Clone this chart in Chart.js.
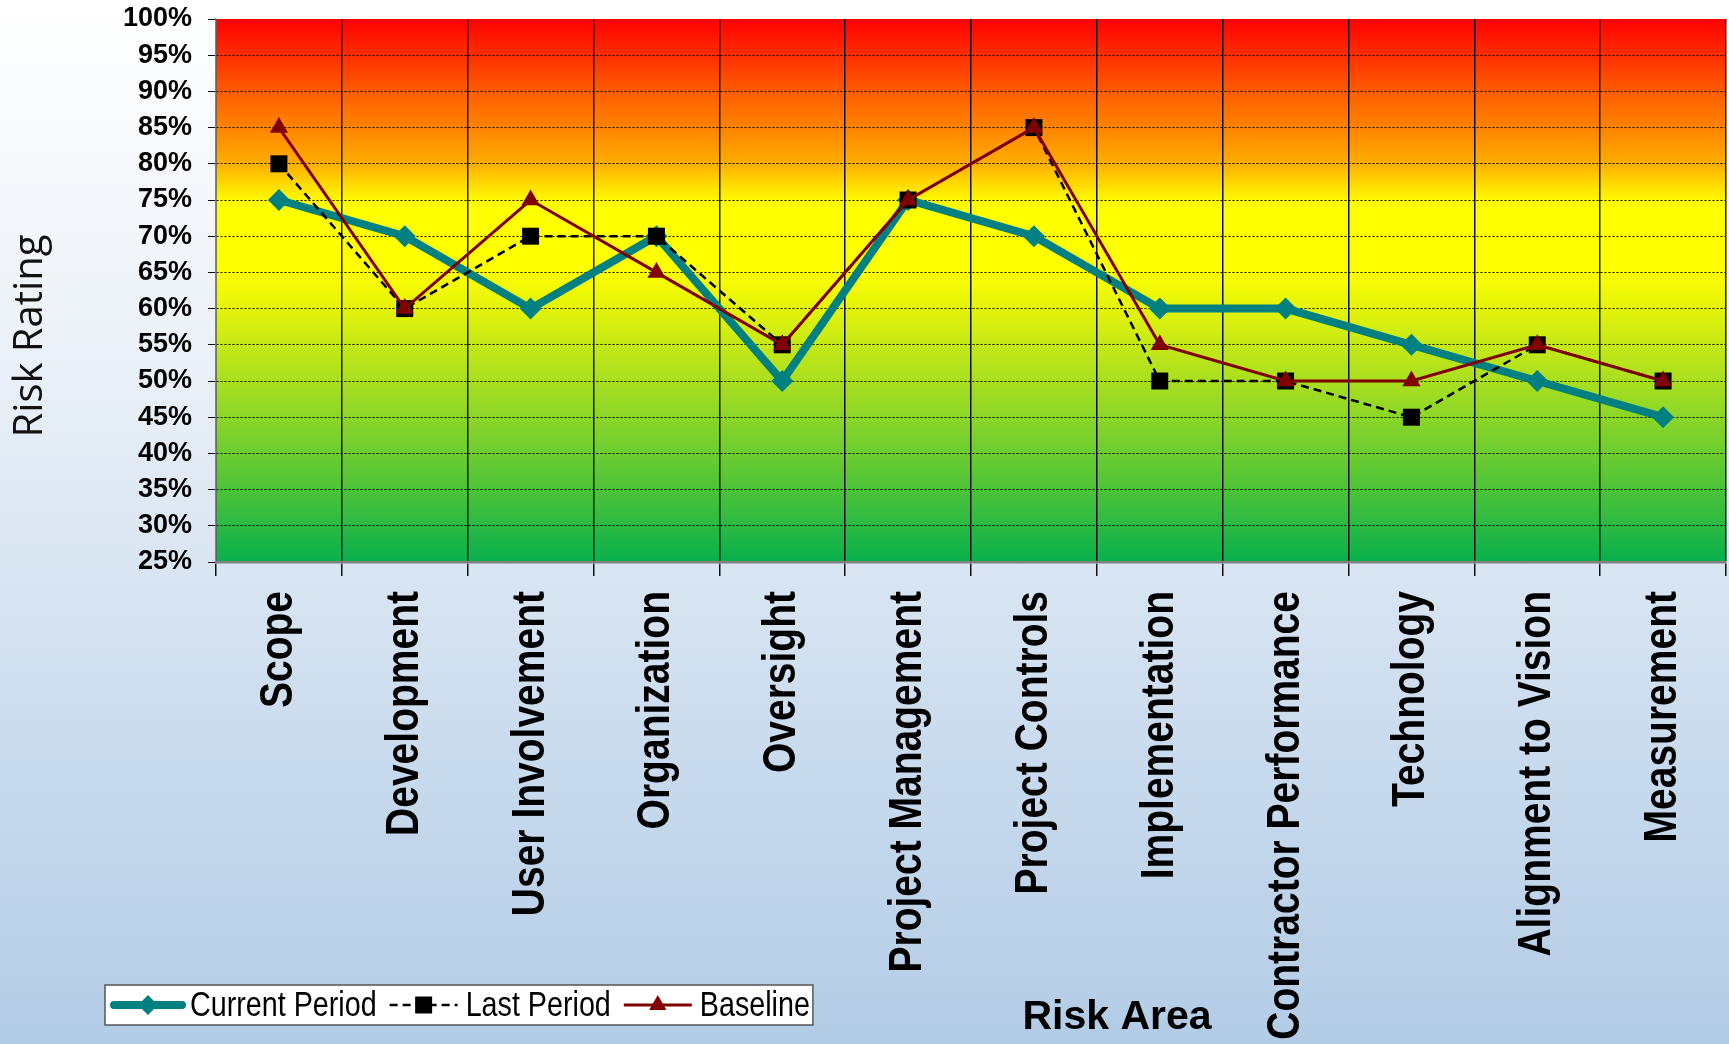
<!DOCTYPE html>
<html>
<head>
<meta charset="utf-8">
<script src="https://cdn.jsdelivr.net/npm/chart.js@4.4.1/dist/chart.umd.min.js"></script>
<style>
    html, body { margin: 0; padding: 0; }
    body {
        width: 1729px;
        height: 1044px;
        overflow: hidden;
        background: linear-gradient(to bottom, #ffffff 0%, #eef3f9 30%, #d9e5f2 55%, #cbdcee 70%, #b3cce6 100%);
    }
    #wrap { position: relative; width: 1729px; height: 1044px; }
</style>
</head>
<body>
<div id="wrap">
    <canvas id="chartRisk" width="1729" height="1044"></canvas>
</div>
<script>
// data
const categories = [
    "Scope",
    "Development",
    "User Involvement",
    "Organization",
    "Oversight",
    "Project Management",
    "Project Controls",
    "Implementation",
    "Contractor Performance",
    "Technology",
    "Alignment to Vision",
    "Measurement",
];
const currentPeriod = [75, 70, 60, 70, 50, 75, 70, 60, 60, 55, 50, 45];
const lastPeriod = [80, 60, 70, 70, 55, 75, 85, 50, 50, 45, 55, 50];
const baseline = [85, 60, 75, 65, 55, 75, 85, 55, 50, 50, 55, 50];
const seriesNames = ["Current Period", "Last Period", "Baseline"];
const yMin = 25;
const yMax = 100;
const yStep = 5;
const xTitle = "Risk Area";
const yTitle = "Risk Rating";

const arial = '"Liberation Sans", Arial, sans-serif';
// no narrow face installed, so text is squeezed with a transform instead
const squeeze = 0.83;

// red -> yellow -> green band behind the plot
const plotBackground = {
    id: "plotBackground",
    beforeDraw(chart) {
        const { ctx, chartArea: a } = chart;
        const g = ctx.createLinearGradient(0, a.top, 0, a.bottom);
        g.addColorStop(0, "#ff0000");
        g.addColorStop(0.07, "#ff3000");
        g.addColorStop(0.133, "#ff5c00");
        g.addColorStop(0.2, "#ff8400");
        g.addColorStop(0.267, "#ffae00");
        g.addColorStop(0.3, "#ffd600");
        g.addColorStop(0.34, "#ffff00");
        g.addColorStop(0.46, "#ffff00");
        g.addColorStop(0.533, "#e4f40a");
        g.addColorStop(0.6, "#c6e816");
        g.addColorStop(0.733, "#8cd628");
        g.addColorStop(0.867, "#4cc338");
        g.addColorStop(1, "#08b04c");
        ctx.save();
        ctx.fillStyle = g;
        ctx.fillRect(a.left, a.top, a.right - a.left, a.bottom - a.top);
        ctx.restore();

        // rotated category labels: squeeze along their length
        const sc = chart.scales.x;
        if (!sc._squeezed) {
            sc._squeezed = true;
            const orig = sc.drawLabels;
            sc._computeLabelArea = () => undefined;
            sc.drawLabels = function (area) {
                const y0 = this.top + 29;
                const c = this.ctx;
                c.save();
                c.translate(0, y0);
                c.scale(1, squeeze);
                c.translate(0, -y0);
                orig.call(this, area);
                c.restore();
            };
        }
    },
};

function drawMarker(ctx, style, x, y, r, color) {
    ctx.fillStyle = color;
    ctx.beginPath();
    if (style === "rectRot") {
        ctx.moveTo(x, y - r);
        ctx.lineTo(x + r, y);
        ctx.lineTo(x, y + r);
        ctx.lineTo(x - r, y);
    } else if (style === "rect") {
        const s = r * Math.SQRT1_2;
        ctx.rect(x - s, y - s, 2 * s, 2 * s);
    } else {
        const e = r * 1.5;
        ctx.moveTo(x, y - r);
        ctx.lineTo(x + e / Math.sqrt(3), y + r / 2);
        ctx.lineTo(x - e / Math.sqrt(3), y + r / 2);
    }
    ctx.closePath();
    ctx.fill();
}

// legend box at the bottom left plus the two axis titles
const extras = {
    id: "extras",
    afterDraw(chart) {
        const ctx = chart.ctx;
        ctx.save();

        // legend
        const top = 985, h = 40, left = 105;
        const cy = top + h / 2;
        ctx.font = "35px " + arial;
        let x = left + 6;
        const items = [];
        chart.data.datasets.forEach((ds) => {
            const w = ctx.measureText(ds.label).width * 0.82;
            items.push({ ds, x, w });
            x += 74 + 5 + w + 10;
        });
        const right = x - 7;
        ctx.fillStyle = "#ffffff";
        ctx.fillRect(left, top, right - left, h);
        ctx.strokeStyle = "#555555";
        ctx.lineWidth = 1.5;
        ctx.strokeRect(left, top, right - left, h);

        items.forEach(({ ds, x }) => {
            ctx.save();
            ctx.strokeStyle = ds.borderColor;
            ctx.lineWidth = ds.borderWidth;
            ctx.lineCap = ds.borderWidth > 5 ? "round" : "butt";
            ctx.setLineDash(ds.borderDash || []);
            ctx.beginPath();
            ctx.moveTo(x + 3, cy);
            ctx.lineTo(x + 71, cy);
            ctx.stroke();
            ctx.restore();
            drawMarker(ctx, ds.pointStyle, x + 37, cy, ds.pointStyle === "rect" ? 12 : 10, ds.pointBackgroundColor);
            ctx.save();
            ctx.translate(x + 79, cy + 1);
            ctx.scale(0.82, 1);
            ctx.fillStyle = "#000000";
            ctx.textBaseline = "middle";
            ctx.textAlign = "left";
            ctx.fillText(ds.label, 0, 0);
            ctx.restore();
        });

        // x title
        ctx.font = "bold 41px " + arial;
        ctx.fillStyle = "#000000";
        ctx.textAlign = "center";
        ctx.textBaseline = "alphabetic";
        ctx.fillText(xTitle, 1117, 1029);

        // y title
        ctx.translate(31, 336);
        ctx.rotate(-Math.PI / 2);
        ctx.font = '40px "Open Sans", sans-serif';
        ctx.fillStyle = "#111111";
        ctx.textAlign = "center";
        ctx.textBaseline = "middle";
        ctx.fillText(yTitle, 0, 0);
        ctx.restore();
    },
};

const chartContainer = document.getElementById("chartRisk");
const chart = new Chart(chartContainer, {
    type: "line",
    data: {
        labels: categories,
        datasets: [
            {
                label: seriesNames[0],
                data: currentPeriod,
                borderColor: "#008080",
                borderWidth: 8,
                pointStyle: "rectRot",
                pointRadius: 11,
                pointBackgroundColor: "#008080",
                pointBorderWidth: 0,
                order: 2,
            },
            {
                label: seriesNames[1],
                data: lastPeriod,
                borderColor: "#000000",
                borderWidth: 2.5,
                borderDash: [8, 5],
                pointStyle: "rect",
                pointRadius: 12,
                pointBackgroundColor: "#000000",
                pointBorderWidth: 0,
                order: 1,
            },
            {
                label: seriesNames[2],
                data: baseline,
                borderColor: "#800000",
                borderWidth: 3,
                pointStyle: "triangle",
                pointRadius: 10.5,
                pointBackgroundColor: "#800000",
                pointBorderWidth: 0,
                order: 0,
            },
        ],
    },
    options: {
        responsive: false,
        devicePixelRatio: 1,
        animation: false,
        events: [],
        layout: { autoPadding: false, padding: { top: 19, right: 3, left: 0, bottom: 0 } },
        plugins: {
            legend: { display: false },
            tooltip: { enabled: false },
        },
        scales: {
            x: {
                offset: true,
                afterFit(scale) {
                    scale.height = 482;
                    scale.paddingLeft = 0;
                    scale.paddingRight = 0;
                },
                grid: {
                    offset: true,
                    color: "#111111",
                    lineWidth: 1.5,
                    tickLength: 14,
                    drawTicks: true,
                },
                border: { display: true, color: "#808080", width: 2.5 },
                ticks: {
                    maxRotation: 90,
                    minRotation: 90,
                    autoSkip: false,
                    padding: 15,
                    color: "#000000",
                    font: { family: arial, size: 47, weight: "bold" },
                },
            },
            y: {
                min: yMin,
                max: yMax,
                afterFit(scale) {
                    scale.width = 216;
                    scale.paddingTop = 0;
                    scale.paddingBottom = 0;
                },
                grid: {
                    color: (c) => (c.tick && c.tick.value === yMax ? "rgba(0,0,0,0)" : "#000000"),
                    lineWidth: 1,
                    tickColor: "#000000",
                    tickLength: 8,
                    tickWidth: 1,
                    tickBorderDash: [],
                },
                border: { display: true, color: "#808080", width: 1.5, dash: [2, 2] },
                ticks: {
                    stepSize: yStep,
                    autoSkip: false,
                    padding: 16,
                    color: "#000000",
                    font: { family: arial, size: 27, weight: "bold" },
                    callback: (v) => v + "%",
                },
            },
        },
    },
    plugins: [plotBackground, extras],
});
</script>
</body>
</html>
